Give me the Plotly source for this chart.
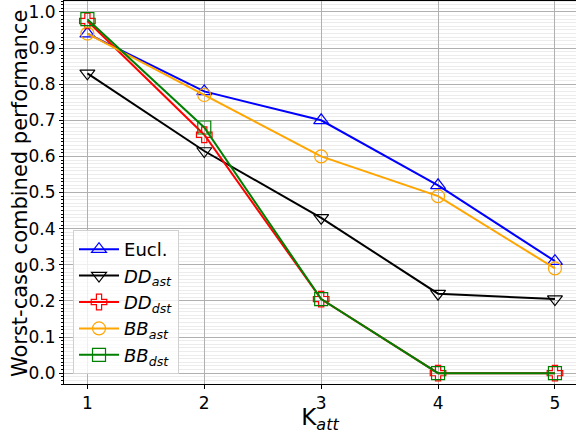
import plotly.graph_objects as go

k_att = [1, 2, 3, 4, 5]
eucl = [0.94, 0.78, 0.70, 0.52, 0.31]
dd_ast = [0.83, 0.615, 0.43, 0.22, 0.205]
dd_dst = [0.975, 0.66, 0.205, 0.0, 0.0]
bb_ast = [0.94, 0.77, 0.60, 0.49, 0.29]
bb_dst = [0.98, 0.68, 0.205, 0.0, 0.0]

series = [
    ("Eucl.", eucl, "blue", "triangle-up-open"),
    ("<i>DD</i><sub><i>ast</i></sub>", dd_ast, "black", "triangle-down-open"),
    ("<i>DD</i><sub><i>dst</i></sub>", dd_dst, "red", "cross-open"),
    ("<i>BB</i><sub><i>ast</i></sub>", bb_ast, "orange", "circle-open"),
    ("<i>BB</i><sub><i>dst</i></sub>", bb_dst, "green", "square-open"),
]

fig = go.Figure()
for name, ys, color, sym in series:
    fig.add_trace(go.Scatter(
        x=k_att, y=ys, name=name, mode="lines+markers",
        line=dict(color=color, width=2),
        marker=dict(symbol=sym, size=13, color=color, line=dict(width=1.2, color=color)),
    ))

fig.update_layout(
    width=576, height=434,
    margin=dict(l=64, r=0, t=0, b=50),
    paper_bgcolor="white", plot_bgcolor="white",
    font=dict(family="DejaVu Sans", size=16, color="black"),
    legend=dict(
        x=0.0176, y=0.026, xanchor="left", yanchor="bottom",
        bgcolor="rgba(255,255,255,0.8)", bordercolor="#d0d0d0", borderwidth=1,
        font=dict(size=18), tracegroupgap=0, itemwidth=40,
    ),
    xaxis=dict(
        range=[0.8, 5.18], tickmode="array", tickvals=k_att, ticktext=[str(k) for k in k_att],
        showgrid=True, gridcolor="#b0b0b0", gridwidth=1,
        showline=True, linecolor="black", linewidth=1, mirror=False,
        ticks="outside", ticklen=4, tickcolor="black", tickfont=dict(size=17),
        title=dict(text="K<sub><i>att</i></sub>", font=dict(size=23), standoff=0),
        zeroline=False, automargin=False,
    ),
    yaxis=dict(
        range=[-0.03, 1.033], tickmode="array",
        tickvals=[i / 10 for i in range(11)], ticktext=[f"{i/10:.1f}" for i in range(11)],
        showgrid=True, gridcolor="#b0b0b0", gridwidth=1,
        showline=True, linecolor="black", linewidth=1, mirror=False,
        ticks="outside", ticklen=4, tickcolor="black", tickfont=dict(size=17),
        minor=dict(dtick=0.01, tick0=0, showgrid=True, gridcolor="#ececec", gridwidth=1,
                   ticks="outside", ticklen=2, tickcolor="black"),
        zeroline=False, automargin=False,
    ),
    annotations=[dict(
        text="Worst-case combined performance", xref="paper", yref="paper",
        x=-0.086, y=0.497, xanchor="center", yanchor="middle", textangle=-90,
        showarrow=False, font=dict(size=21),
    )],
)
fig.add_shape(type="line", xref="paper", yref="paper", x0=0, x1=1, y0=1, y1=1,
              line=dict(color="black", width=2))

fig.write_html("out.html", config={"displayModeBar": False},
               post_script="document.body.style.margin='0';document.body.style.overflow='hidden';")
